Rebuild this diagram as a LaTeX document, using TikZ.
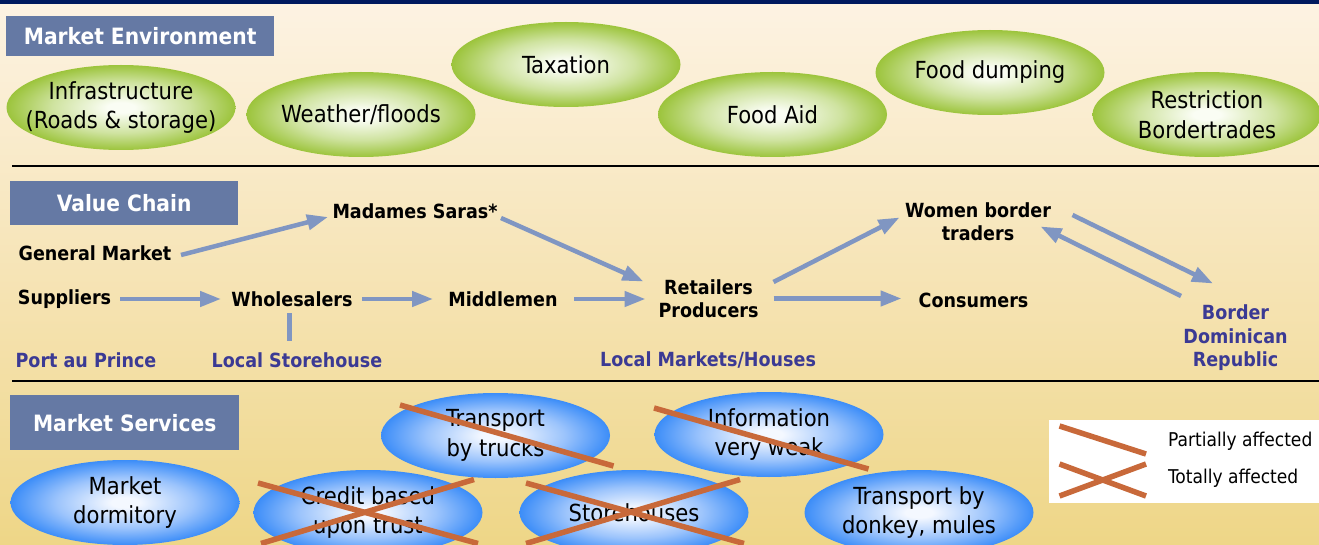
\documentclass[tikz,border=0pt]{standalone}
\usepackage{fontspec}
\setmainfont{DejaVu Sans Condensed}
\usetikzlibrary{shapes.geometric,arrows.meta,calc}
\definecolor{navy}{HTML}{001A5E}
\definecolor{bgtop}{HTML}{FDF3E3}
\definecolor{bgmid}{HTML}{F6E4B6}
\definecolor{bgbot}{HTML}{EED687}
\definecolor{boxblue}{HTML}{6579A4}
\definecolor{gout}{HTML}{9CC43C}
\definecolor{gmid}{HTML}{CFE3A0}
\definecolor{gin}{HTML}{FAFDF4}
\definecolor{bout}{HTML}{3C8DF8}
\definecolor{bmid}{HTML}{9CC4FC}
\definecolor{bin}{HTML}{F4F8FF}
\definecolor{arrc}{HTML}{8096C2}
\definecolor{lblue}{HTML}{3B3A94}
\definecolor{crossc}{HTML}{C8693A}
\pgfdeclareradialshading{gshade}{\pgfpoint{0bp}{0bp}}{color(0bp)=(gin); color(3bp)=(gin); color(15bp)=(gmid); color(25bp)=(gout); color(50bp)=(gout)}
\pgfdeclareradialshading{bshade}{\pgfpoint{0bp}{0bp}}{color(0bp)=(bin); color(3bp)=(bin); color(15bp)=(bmid); color(25bp)=(bout); color(50bp)=(bout)}
\tikzset{
  titlebox/.style={fill=boxblue, text=white, font=\fontsize{22.5}{26}\selectfont\bfseries, anchor=north west, inner sep=0pt, minimum height=#1},
  ell/.style={ellipse, minimum width=229pt, minimum height=85pt, inner sep=0pt},
  etext/.style={align=center, inner sep=0pt, font=\fontsize{23.5}{29.5}\selectfont},
  genv/.style={ell, shading=gshade, label={[etext]center:#1}},
  serv/.style={ell, shading=bshade, label={[etext]center:#1}},
  chain/.style={inner sep=0pt, align=center, font=\fontsize{19.5}{23.5}\selectfont\bfseries},
  place/.style={inner sep=0pt, align=center, text=lblue, font=\fontsize{19.5}{23.5}\selectfont\bfseries},
  arr/.style={draw=arrc, line width=4.5pt, -{Triangle[length=21pt,width=15pt]}},
  lnk/.style={draw=arrc, line width=4.5pt},
  cross/.style={draw=crossc, line width=5.5pt},
  sepline/.style={draw=black, line width=2.5pt},
  legtext/.style={inner sep=0pt, anchor=west, font=\fontsize{19}{22}\selectfont}
}
\begin{document}
\begin{tikzpicture}[x=1pt,y=-1pt]
\useasboundingbox (0,0) rectangle (1319,545);
% background
\shade[top color=bgtop, bottom color=bgmid] (0,0) rectangle (1319,272);
\shade[top color=bgmid, bottom color=bgbot] (0,272) rectangle (1319,545);
\fill[navy] (0,0) rectangle (1319,4.5);
% section lines
\draw[sepline] (12,166) -- (1319,166);
\draw[sepline] (12,381) -- (1319,381);
% title boxes
\node[titlebox=40pt, minimum width=268pt] (tme) at (6,16) {Market Environment};
\node[titlebox=44pt, minimum width=228pt] (tvc) at (10,181) {Value Chain};
\node[titlebox=55pt, minimum width=229pt] (tms) at (10,395) {Market Services};
% market environment
\node[genv={Infrastructure\\(Roads \& storage)}] (infra) at (121,107.5) {};
\node[genv={Weather/floods}] (weather) at (361,114.5) {};
\node[genv={Taxation}] (tax) at (566,64.5) {};
\node[genv={Food Aid}] (aid) at (772.5,114.5) {};
\node[genv={Food dumping}] (dump) at (990,72.5) {};
\node[genv={Restriction\\Bordertrades}] (restr) at (1207,114.5) {};
% value chain
\node[chain] (ms) at (415,211) {Madames Saras*};
\node[chain] (gm) at (95,253) {General Market};
\node[chain] (sup) at (64.5,299) {Suppliers};
\node[chain] (wh) at (292,299) {Wholesalers};
\node[chain] (mid) at (503,299) {Middlemen};
\node[chain] (rp) at (708.5,298.5) {Retailers\\Producers};
\node[chain] (cons) at (973.5,300) {Consumers};
\node[chain] (wbt) at (978,221.5) {Women border\\traders};
\node[place] (bdr) at (1235.5,338) {Border\\Dominican\\Republic};
\node[place] (pap) at (86,360.5) {Port au Prince};
\node[place] (ls) at (297,360) {Local Storehouse};
\node[place] (lmh) at (708,360) {Local Markets/Houses};
% connectors
\draw[arr] ([shift={(86,2)}]gm.center) -- ([shift={(-87,6)}]ms.center);
\draw[arr] ([shift={(86,7)}]ms.center) -- ([shift={(-65,-17)}]rp.center);
\draw[arr] ([shift={(55.5,0)}]sup.center) -- ([shift={(-71,0)}]wh.center);
\draw[arr] ([shift={(70,0)}]wh.center) -- ([shift={(-70,0)}]mid.center);
\draw[arr] ([shift={(71,0)}]mid.center) -- ([shift={(-63,0.5)}]rp.center);
\draw[arr] ([shift={(65,-16.5)}]rp.center) -- ([shift={(-78.5,-4)}]wbt.center);
\draw[arr] ([shift={(65,0)}]rp.center) -- ([shift={(-72,-1.5)}]cons.center);
\draw[arr] ([shift={(94.5,-6.5)}]wbt.center) -- ([shift={(-22.5,-54.5)}]bdr.center);
\draw[arr] ([shift={(-54.5,-42)}]bdr.center) -- ([shift={(62.5,5)}]wbt.center);
\draw[lnk] ([shift={(-2.5,14)}]wh.center) -- ([shift={(-7.5,-19)}]ls.center);
% market services
\node[serv={Market\\dormitory}] (dorm) at (125,502.5) {};
\node[serv={Transport\\by trucks}] (truck) at (495.5,435.5) {};
\node[serv={Credit based\\upon trust}] (credit) at (368,512.5) {};
\node[serv={Storehouses}] (store) at (634,512.5) {};
\node[serv={Information\\very weak}] (info) at (769,434.5) {};
\node[serv={Transport by\\donkey, mules}] (donkey) at (919,512.5) {};
% cross-outs
\draw[cross] ([shift={(-95.5,-30.5)}]truck.center) -- ([shift={(118,30.5)}]truck.center);
\draw[cross] ([shift={(-115,-26.5)}]info.center) -- ([shift={(99.5,34.5)}]info.center);
\draw[cross] ([shift={(-110,-29.5)}]credit.center) -- ([shift={(110,31)}]credit.center);
\draw[cross] ([shift={(-107,31)}]credit.center) -- ([shift={(106,-33)}]credit.center);
\draw[cross] ([shift={(-108,-29.5)}]store.center) -- ([shift={(110,31)}]store.center);
\draw[cross] ([shift={(-108,31)}]store.center) -- ([shift={(106,-33)}]store.center);
% legend
\fill[white] (1049,420) rectangle (1319,503);
\coordinate (lp1) at (1059.5,426);
\coordinate (lp2) at (1146,454);
\coordinate (lt1) at (1059.5,464);
\coordinate (lt2) at (1146,496);
\coordinate (lt3) at (1059.5,496);
\coordinate (lt4) at (1146,464);
\draw[cross] (lp1) -- (lp2);
\draw[cross] (lt1) -- (lt2);
\draw[cross] (lt3) -- (lt4);
\node[legtext] (lpt) at (1168,441.5) {Partially affected};
\node[legtext] (ltt) at (1168,478.5) {Totally affected};
\end{tikzpicture}
\end{document}
